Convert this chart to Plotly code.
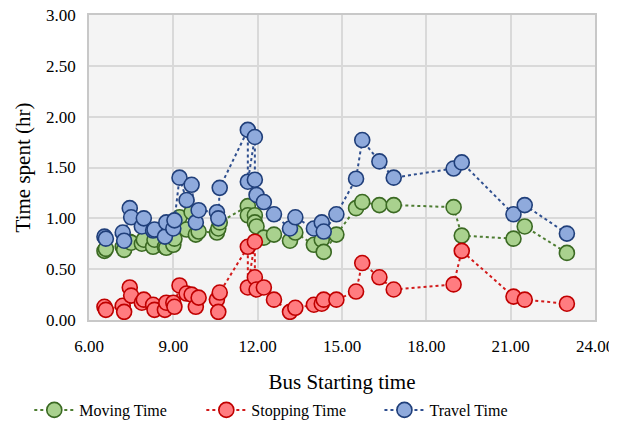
import plotly.graph_objects as go

start_time = [6.55, 6.60, 7.20, 7.25, 7.45, 7.50, 7.88, 7.95, 8.28, 8.33, 8.70, 8.75,
              9.00, 9.04, 9.22, 9.47, 9.65, 9.80, 9.90, 10.55, 10.60, 10.65,
              11.65, 11.65, 11.90, 11.90, 11.96, 12.22, 12.58,
              13.15, 13.34, 14.00, 14.28, 14.35, 14.80, 15.50, 15.72, 16.33, 16.84,
              18.97, 19.26, 21.10, 21.50, 23.00]
moving_time = [0.68, 0.70, 0.72, 0.69, 0.77, 0.76, 0.75, 0.79, 0.72, 0.79, 0.72, 0.71,
               0.74, 0.80, 1.01, 0.89, 1.06, 0.84, 0.87, 0.86, 0.90, 0.96,
               1.12, 1.03, 1.03, 0.96, 0.92, 0.81, 0.84,
               0.78, 0.86, 0.74, 0.79, 0.67, 0.84, 1.10, 1.16, 1.13, 1.13,
               1.11, 0.83, 0.80, 0.92, 0.66]
stopping_time = [0.13, 0.10, 0.14, 0.08, 0.32, 0.24, 0.17, 0.20, 0.15, 0.10, 0.10, 0.17,
                 0.17, 0.13, 0.34, 0.26, 0.25, 0.13, 0.22, 0.20, 0.08, 0.27,
                 0.72, 0.32, 0.77, 0.42, 0.30, 0.32, 0.20,
                 0.08, 0.12, 0.15, 0.16, 0.20, 0.20, 0.28, 0.56, 0.42, 0.30,
                 0.35, 0.68, 0.23, 0.20, 0.16]
travel_time = [0.82, 0.80, 0.86, 0.78, 1.10, 1.01, 0.92, 1.00, 0.88, 0.89, 0.82, 0.96,
               0.90, 0.98, 1.40, 1.18, 1.33, 0.96, 1.08, 1.06, 1.00, 1.30,
               1.87, 1.36, 1.80, 1.38, 1.23, 1.16, 1.04,
               0.90, 1.01, 0.90, 0.96, 0.87, 1.04, 1.39, 1.77, 1.56, 1.40,
               1.49, 1.55, 1.04, 1.13, 0.85]

series = [
    ("Moving Time", moving_time, "#a9d18e", "#3b6a23", "#4e7d32", "legend", -0.118),
    ("Stopping Time", stopping_time, "#ff7c80", "#c00000", "#d21a1a", "legend2", 0.222),
    ("Travel Time", travel_time, "#8faadc", "#203f7a", "#2f4f8f", "legend3", 0.574),
]

FF = "Liberation Serif"

fig = go.Figure()
legends = {}
for name, vals, fill, edge, linecol, leg, lx in series:
    fig.add_trace(go.Scatter(
        x=start_time, y=vals, name=name, mode="lines+markers", legend=leg,
        line=dict(color=linecol, width=2, dash="dot"),
        marker=dict(size=15, color=fill, line=dict(color=edge, width=1.6)),
    ))
    legends[leg] = dict(orientation="h", x=lx, xanchor="left",
                        y=-0.295, yanchor="middle",
                        font=dict(family=FF, size=16, color="black"), itemwidth=40,
                        bgcolor="rgba(0,0,0,0)")

fig.update_layout(
    width=609, height=413,
    margin=dict(l=81, r=22, t=7, b=101, autoexpand=False),
    paper_bgcolor="white",
    plot_bgcolor="#f4f4f4",
    font=dict(family=FF, color="black", size=15),
    showlegend=True,
    **legends,
)
fig.update_xaxes(
    range=[6, 24], dtick=3, tick0=6, tickformat=".2f", automargin=False,
    showgrid=True, gridcolor="#d9d9d9", gridwidth=1.5,
    showline=True, linecolor="#c8c8c8", linewidth=1.5, mirror=True,
    zeroline=False, ticks="", ticklen=0, ticklabelstandoff=10,
    ticklabeloverflow="allow",
    title=dict(text="Bus Starting time", font=dict(family=FF, size=21, color="black"), standoff=19),
    tickfont=dict(family=FF, size=17, color="black"),
)
fig.update_yaxes(
    range=[0, 3], dtick=0.5, tick0=0, tickformat=".2f", automargin=False,
    showgrid=True, gridcolor="#d9d9d9", gridwidth=1.5,
    showline=True, linecolor="#c8c8c8", linewidth=1.5, mirror=True,
    zeroline=False, ticks="", ticklen=0, ticklabelstandoff=8,
    ticklabeloverflow="allow",
    title=dict(text="Time spent (hr)", font=dict(family=FF, size=21, color="black"), standoff=10),
    tickfont=dict(family=FF, size=17, color="black"),
)

fig.write_html("out.html")
